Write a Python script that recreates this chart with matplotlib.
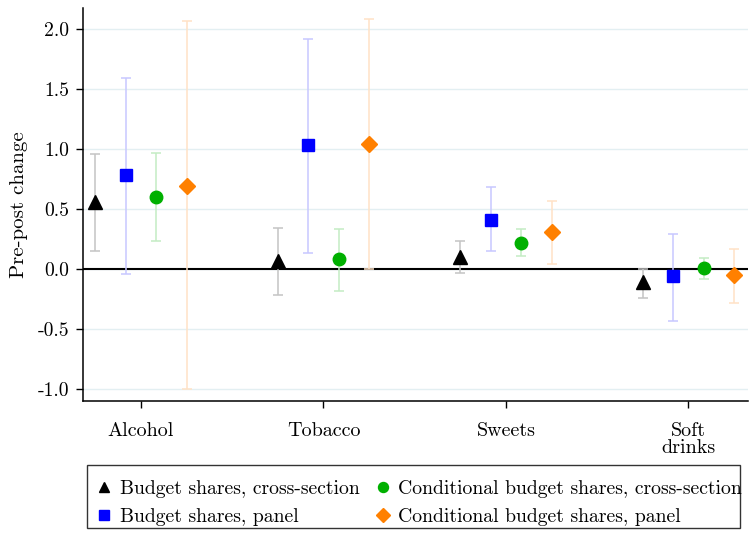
import numpy as np
import matplotlib
matplotlib.use("Agg")
import matplotlib.pyplot as plt
from matplotlib.lines import Line2D
from matplotlib.patches import Rectangle

plt.rcParams['font.family'] = ['cmr10', 'DejaVu Serif']
plt.rcParams['axes.unicode_minus'] = False
plt.rcParams['mathtext.fontset'] = 'cm'

categories = ["Alcohol", "Tobacco", "Sweets", "Soft\ndrinks"]
series = ["Budget shares, cross-section", "Budget shares, panel",
          "Conditional budget shares, cross-section", "Conditional budget shares, panel"]

# point estimates per series (Alcohol, Tobacco, Sweets, Soft drinks)
est_bs_cs = [0.56, 0.07, 0.10, -0.11]
est_bs_pn = [0.78, 1.03, 0.41, -0.06]
est_cb_cs = [0.60, 0.08, 0.22, 0.01]
est_cb_pn = [0.69, 1.04, 0.31, -0.05]

lo_bs_cs = [0.15, -0.22, -0.03, -0.24]
hi_bs_cs = [0.96, 0.34, 0.23, 0.00]
lo_bs_pn = [-0.04, 0.13, 0.15, -0.43]
hi_bs_pn = [1.59, 1.92, 0.68, 0.29]
lo_cb_cs = [0.23, -0.18, 0.11, -0.08]
hi_cb_cs = [0.97, 0.33, 0.33, 0.09]
lo_cb_pn = [-1.00, 0.00, 0.04, -0.28]
hi_cb_pn = [2.07, 2.08, 0.57, 0.17]

yticks = [-1.0, -0.5, 0.0, 0.5, 1.0, 1.5, 2.0]

styles = [
    dict(marker="^", color="black", ecolor="#c4c4c4", ms=9.5),
    dict(marker="s", color="#0000ff", ecolor="#c8c8ff", ms=9),
    dict(marker="o", color="#00b000", ecolor="#c4ecc4", ms=9),
    dict(marker="D", color="#ff8000", ecolor="#ffe2c6", ms=8.5),
]
est = [est_bs_cs, est_bs_pn, est_cb_cs, est_cb_pn]
lo = [lo_bs_cs, lo_bs_pn, lo_cb_cs, lo_cb_pn]
hi = [hi_bs_cs, hi_bs_pn, hi_cb_cs, hi_cb_pn]
offsets = [-0.25, -1 / 12, 1 / 12, 0.25]

fig = plt.figure(figsize=(7.54, 5.38), dpi=100)
ax = fig.add_axes([0.110, 0.2546, 0.882, 0.7304])

for yt in yticks:
    ax.axhline(yt, color="#e3eff2", lw=1.0, zorder=0)
ax.axhline(0, color="black", lw=1.5, zorder=1)

x = np.arange(1, len(categories) + 1)
handles = []
for k in range(4):
    st = styles[k]
    e = np.array(est[k])
    yerr = np.vstack([e - np.array(lo[k]), np.array(hi[k]) - e])
    ax.errorbar(x + offsets[k], e, yerr=yerr, fmt="none", ecolor=st["ecolor"],
                elinewidth=1.1, capsize=3.8, capthick=1.1, zorder=2)
    ax.plot(x + offsets[k], e, linestyle="none", marker=st["marker"],
            color=st["color"], ms=st["ms"], mec=st["color"], zorder=3)
    handles.append(Line2D([], [], linestyle="none", marker=st["marker"],
                          color=st["color"], ms=st["ms"] * 0.8))

ax.set_xlim(0.682, 4.326)
ax.set_ylim(-1.1, 2.175)
ax.set_xticks(x)
ax.set_xticklabels(categories, linespacing=0.95)
ax.set_yticks(yticks)
ax.set_yticklabels(["%.1f" % v for v in yticks])
ax.tick_params(axis="x", length=5, width=1.0, pad=10, labelsize=14.5)
ax.tick_params(axis="y", length=5, width=1.0, pad=5, labelsize=14.2)
for s in ["top", "right"]:
    ax.spines[s].set_visible(False)
for s in ["left", "bottom"]:
    ax.spines[s].set_linewidth(1.1)
ax.set_ylabel("Pre-post change", fontsize=15, labelpad=7)

# legend frame drawn separately so the text may run up to the border
fig.patches.append(Rectangle((87 / 754, 10 / 538), 653 / 754, 63 / 538,
                             transform=fig.transFigure, fill=False,
                             edgecolor="#333333", lw=1.0))
leg = fig.legend(handles, series, ncol=2, loc="lower left",
                 bbox_to_anchor=(96 / 754, 12 / 538),
                 fontsize=14.2, frameon=False,
                 handlelength=0.8, handletextpad=0.4, columnspacing=0.78,
                 labelspacing=0.5, borderpad=0, borderaxespad=0)

fig.savefig("out.png", dpi=100)
